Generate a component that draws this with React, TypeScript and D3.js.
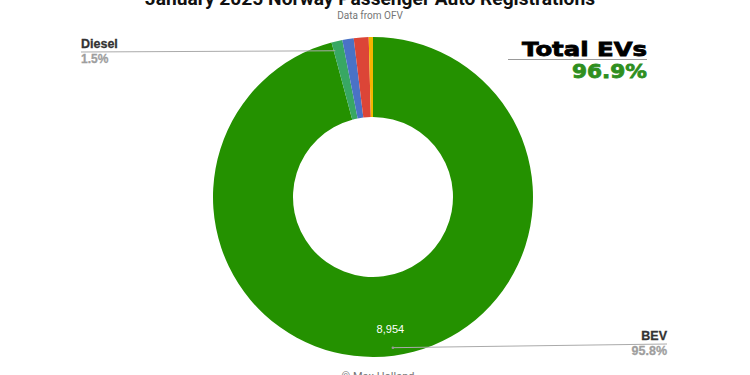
import React from "react";
import * as d3 from "d3";

const categories = ["BEV", "PHEV", "Petrol", "Diesel", "Other"];
const values = [8954, 103, 107, 140, 40];
const colors = ["#249100", "#38a763", "#4a72c6", "#dc4537", "#f4b400"];
const titleText = "January 2025 Norway Passenger Auto Registrations";
const subtitleText = "Data from OFV";
const creditText = "© Max Holland";
const totalEvLabel = "Total EVs";
const totalEvShare = "96.9%";
const bevShare = "95.8%";
const dieselShare = "1.5%";

const W = 750;
const H = 375;
const cx = 373;
const cy = 197;
const R = 160;
const r0 = 80;

export default function App() {
  const pie = d3.pie<number>().sort(null).value((d) => d)(values);
  const arc = d3.arc<d3.PieArcDatum<number>>().innerRadius(r0).outerRadius(R);
  const fmt = d3.format(",");
  const polar = (a: number, rad: number) => [cx + rad * Math.sin(a), cy - rad * Math.cos(a)];

  const bev = pie[0];
  const bevMid = (bev.startAngle + bev.endAngle) / 2;
  const [bx, by] = polar(bevMid, 152);
  const [vx, vy] = polar(bevMid, 133);
  const [dx, dy] = polar(pie[1].startAngle + 0.01, 151);

  const font = "'Liberation Sans', Arial, sans-serif";
  const heavy = "'DejaVu Sans', sans-serif";

  return (
    <svg width={W} height={H} style={{ position: "absolute", left: 0, top: 0, background: "#fff" }}>
      <text x={370} y={5} textAnchor="middle" fontFamily="Roboto, sans-serif" fontWeight="bold" fontSize={19} textLength={450} lengthAdjust="spacingAndGlyphs" fill="#111">
        {titleText}
      </text>
      <text x={370} y={19} textAnchor="middle" fontFamily="Roboto, sans-serif" fontSize={10} fill="#757575">
        {subtitleText}
      </text>
      <g transform={`translate(${cx},${cy})`}>
        {pie.map((p, i) => (
          <path key={categories[i]} d={arc(p) || ""} fill={colors[i]} />
        ))}
      </g>
      <text x={vx} y={vy + 4} textAnchor="middle" fontFamily={font} fontSize={11} fill="#fff">
        {fmt(values[0])}
      </text>
      {/* BEV label */}
      <line x1={bx} y1={by} x2={667} y2={344} stroke="#aaa" strokeWidth={1} />
      <circle cx={bx} cy={by} r={1.3} fill="#999" />
      <text x={667} y={340} textAnchor="end" fontFamily={font} fontWeight="bold" fontSize={12.5} fill="#333" stroke="#333" strokeWidth={0.3}>
        {categories[0]}
      </text>
      <text x={667} y={355} textAnchor="end" fontFamily={font} fontWeight="bold" fontSize={12.5} fill="#9e9e9e" stroke="#9e9e9e" strokeWidth={0.3}>
        {bevShare}
      </text>
      {/* Diesel label */}
      <line x1={81} y1={52} x2={dx} y2={dy} stroke="#aaa" strokeWidth={1} />
      <text x={81} y={48} fontFamily={font} fontWeight="bold" fontSize={12.5} fill="#333" stroke="#333" strokeWidth={0.3}>
        {categories[3]}
      </text>
      <text x={81} y={63} fontFamily={font} fontWeight="bold" fontSize={12} fill="#9e9e9e" stroke="#9e9e9e" strokeWidth={0.3}>
        {dieselShare}
      </text>
      {/* Total EVs */}
      <text x={647} y={56} textAnchor="end" fontFamily={heavy} fontWeight="bold" fontSize={20} textLength={125} lengthAdjust="spacingAndGlyphs" fill="#000" stroke="#000" strokeWidth={0.8}>
        {totalEvLabel}
      </text>
      <line x1={508} y1={59.5} x2={647} y2={59.5} stroke="#999" strokeWidth={1} />
      <text x={647} y={78} textAnchor="end" fontFamily={heavy} fontWeight="bold" fontSize={20} textLength={75} lengthAdjust="spacingAndGlyphs" fill="#2f8f1f" stroke="#2f8f1f" strokeWidth={0.8}>
        {totalEvShare}
      </text>
      <text x={378} y={380} textAnchor="middle" fontFamily="Roboto, sans-serif" fontSize={11} fill="#757575">
        {creditText}
      </text>
    </svg>
  );
}
